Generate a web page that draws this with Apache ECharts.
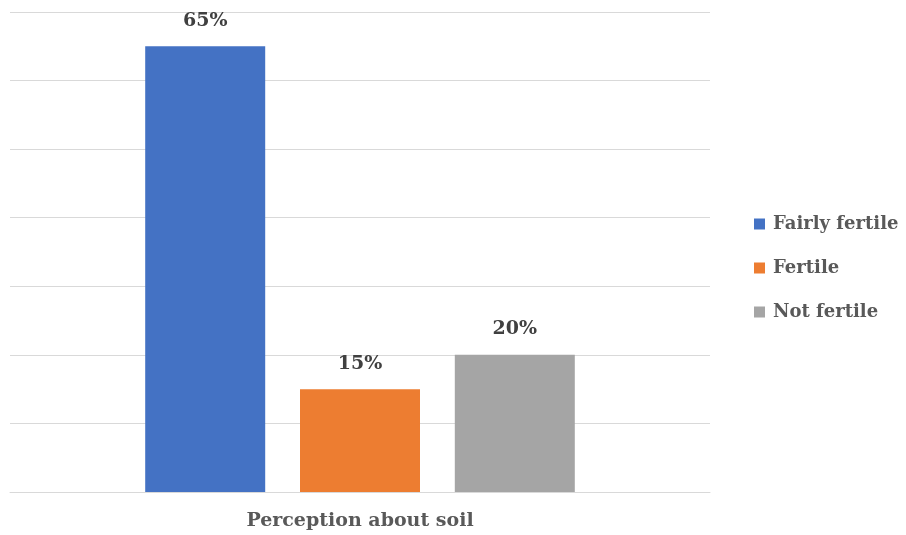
<!DOCTYPE html>
<html><head><meta charset="utf-8">
<script src="https://cdn.jsdelivr.net/npm/echarts@6/dist/echarts.min.js"></script>
<style>html,body{margin:0;padding:0;background:#fff}#c{width:906px;height:535px}</style>
</head><body><div id="c"></div>
<script>
const categories = ["Perception about soil"];
const seriesNames = ["Fairly fertile", "Fertile", "Not fertile"];
const seriesValues = [[65], [15], [20]];
const colors = ["#4472C4", "#ED7D31", "#A5A5A5"];
const font = "'DejaVu Serif', serif";
const chart = echarts.init(document.getElementById('c'));
chart.setOption({
  animation: false,
  grid: {left: 10, right: 196, top: 12, bottom: 43, containLabel: false},
  legend: {
    orient: 'vertical', left: 749, top: 210, itemGap: 26,
    itemWidth: 11, itemHeight: 11, icon: 'rect', itemStyle: {borderWidth: 0},
    textStyle: {fontFamily: font, fontWeight: 'bold', fontSize: 18, color: '#595959', padding: [0, 0, 0, 3]},
    data: seriesNames
  },
  xAxis: {
    type: 'category', data: categories,
    axisLine: {show: true, lineStyle: {color: '#d9d9d9'}},
    axisTick: {show: false},
    axisLabel: {margin: 20, fontFamily: font, fontWeight: 'bold', fontSize: 19, color: '#595959'}
  },
  yAxis: {
    type: 'value', min: 0, max: 70, interval: 10,
    axisLabel: {show: false}, axisLine: {show: false}, axisTick: {show: false},
    splitLine: {lineStyle: {color: '#d9d9d9'}}
  },
  series: seriesNames.map((n, i) => ({
    name: n, type: 'bar', data: seriesValues[i], barWidth: 120, barGap: '29%',
    itemStyle: {color: colors[i]},
    label: {show: true, position: 'top', distance: 16, formatter: '{c}%',
      fontFamily: font, fontWeight: 'bold', fontSize: 19, color: '#404040'}
  }))
});
</script></body></html>
